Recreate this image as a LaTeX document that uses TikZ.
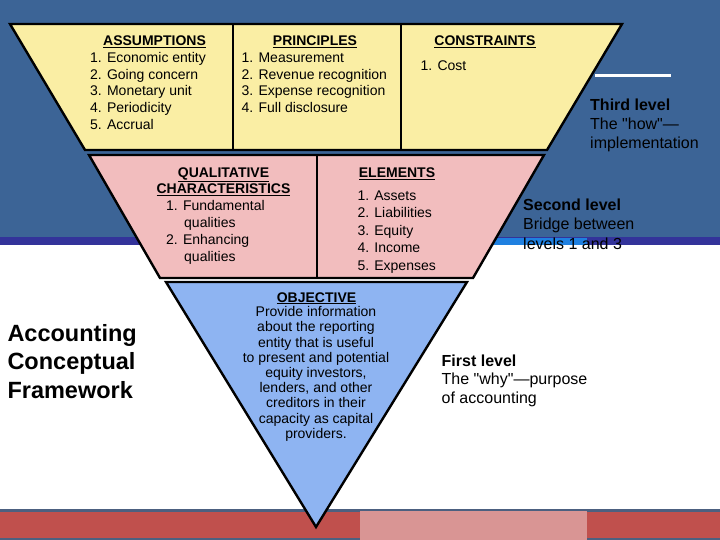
\documentclass[tikz,border=0pt]{standalone}
\usepackage{fontspec}
\setmainfont{Liberation Sans}
\usepackage{xcolor}
\usepackage{tikz}
\definecolor{slide}{HTML}{3C6496}
\definecolor{stripe}{HTML}{33339A}
\definecolor{stripehi}{HTML}{1F80E0}
\definecolor{barline}{HTML}{4C6080}
\definecolor{bar}{HTML}{C0504D}
\definecolor{barhi}{HTML}{D99594}
\definecolor{third}{HTML}{FAEEA4}
\definecolor{second}{HTML}{F2BDBE}
\definecolor{first}{HTML}{8EB4F2}

\begin{document}
\begin{tikzpicture}[x=1pt, y=-1pt,
  hd/.style={font=\bfseries\fontsize{14}{16}\selectfont, align=center, anchor=base, inner sep=0pt},
  lst/.style={font=\fontsize{14}{16.8}\selectfont, align=left, anchor=base west, inner sep=0pt},
  obj/.style={font=\fontsize{14}{15.2}\selectfont, align=center, anchor=base, inner sep=0pt},
  lvl/.style={font=\fontsize{16}{19}\selectfont, align=left, anchor=base west, inner sep=0pt},
  tier/.style={draw=black, line width=2.4pt, line join=miter}]
  \useasboundingbox (0,0) rectangle (720,540);
  \fill[slide] (0,0) rectangle (720,245);
  \fill[stripe] (0,237) rectangle (720,245);
  \fill[stripehi] (470,237.5) rectangle (587,245);
  \fill[barline] (0,509) rectangle (720,540);
  \fill[bar] (0,511.5) rectangle (720,538);
  \fill[barhi] (360,511) rectangle (587,540);
  \draw[white, line width=3pt] (595,75.5) -- (671,75.5);
  \draw[tier, fill=third] (10,24) -- (622,24) -- (547,150) -- (85,150) -- cycle;
  \draw[tier] (233,24) -- (233,150) (401,24) -- (401,150);
  \draw[tier, fill=second] (89,155) -- (544,155) -- (473,278) -- (160,278) -- cycle;
  \draw[tier] (317,155) -- (317,278);
  \draw[tier, fill=first] (166,282) -- (467,282) -- (316,527) -- cycle;
  \node[hd] (asmh) at (154.5,46) {\underline{ASSUMPTIONS}};
  \node[lst] (asm) at (90,129.5) {1. Economic entity\\2. Going concern\\3. Monetary unit\\4. Periodicity\\5. Accrual};
  \node[hd] (prnh) at (315,46) {\underline{PRINCIPLES}};
  \node[lst] (prn) at (241.5,112.7) {1. Measurement\\2. Revenue recognition\\3. Expense recognition\\4. Full disclosure};
  \node[hd] (cnsh) at (485,46) {\underline{CONSTRAINTS}};
  \node[lst] (cns) at (420.5,70.7) {1. Cost};
  \node[hd] (qlth) at (223.5,193.3) {\underline{QUALITATIVE}\\\underline{CHARACTERISTICS}};
  \node[lst, font=\fontsize{14}{17}\selectfont] (qlt) at (166,261.5) {1. Fundamental\\\hspace*{18pt}qualities\\2. Enhancing\\\hspace*{18pt}qualities};
  \node[hd] (elmh) at (397,177.3) {\underline{ELEMENTS}};
  \node[lst, font=\fontsize{14}{17.6}\selectfont] (elm) at (357.3,270.5) {1. Assets\\2. Liabilities\\3. Equity\\4. Income\\5. Expenses};
  \node[hd] (objh) at (316.5,302) {\underline{OBJECTIVE}};
  \node[obj] (obj) at (316,438.3) {Provide information\\about the reporting\\entity that is useful\\to present and potential\\equity investors,\\lenders, and other\\creditors in their\\capacity as capital\\providers.};
  \node[lvl] (lv3) at (590,148.5) {\textbf{Third level}\\The \textquotedbl how\textquotedbl---\\implementation};
  \node[lvl, font=\fontsize{16}{19.5}\selectfont] (lv2) at (523,249) {\textbf{Second level}\\Bridge between\\levels 1 and 3};
  \node[lvl, font=\fontsize{16}{18.7}\selectfont] (lv1) at (441.5,403.4) {\textbf{First level}\\The \textquotedbl why\textquotedbl---purpose\\of accounting};
  \node[font=\bfseries\fontsize{23.5}{28.5}\selectfont, align=left, anchor=base west, inner sep=0pt] (ttl) at (7.3,398) {Accounting\\Conceptual\\Framework};
\end{tikzpicture}
\end{document}
